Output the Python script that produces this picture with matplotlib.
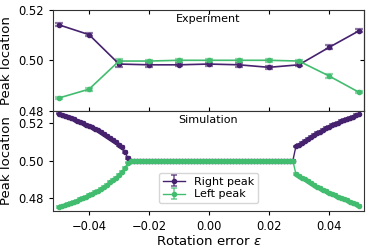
import numpy as np
import matplotlib
matplotlib.use("Agg")
import matplotlib.pyplot as plt


PURPLE = "#46216e"
GREEN = "#42bd6f"

# experiment
exp_eps = [-0.05, -0.04, -0.03, -0.02, -0.01, 0.0, 0.01, 0.02, 0.03, 0.04, 0.05]
exp_right = [0.5141, 0.5102, 0.4985, 0.4982, 0.4982, 0.4985, 0.4982, 0.4972, 0.4982, 0.5051, 0.5117]
exp_right_err = [0.0006, 0.0006, 0.0012, 0.0007, 0.0006, 0.0006, 0.0007, 0.0006, 0.0006, 0.0008, 0.0006]
exp_left = [0.4850, 0.4885, 0.4997, 0.4997, 0.5000, 0.5000, 0.5000, 0.5000, 0.4997, 0.4938, 0.4873]
exp_left_err = [0.0005, 0.0006, 0.0008, 0.0005, 0.0005, 0.0005, 0.0005, 0.0005, 0.0005, 0.0007, 0.0005]

# simulation, eps = -0.050 ... 0.050 in steps of 0.001
sim_eps = np.round(np.arange(-50, 51) * 0.001, 3)
sim_right = [
    0.5250, 0.5244, 0.5238, 0.5232, 0.5226, 0.5219, 0.5212, 0.5205, 0.5198, 0.5191,
    0.5184, 0.5176, 0.5168, 0.5160, 0.5150, 0.5140, 0.5130, 0.5120, 0.5109, 0.5097,
    0.5085, 0.5072, 0.5045, 0.5012, 0.5000,
    0.500, 0.500, 0.500, 0.500, 0.500, 0.500, 0.500, 0.500, 0.500,
    0.500, 0.500, 0.500, 0.500, 0.500, 0.500, 0.500, 0.500, 0.500,
    0.500, 0.500, 0.500, 0.500, 0.500, 0.500, 0.500, 0.500, 0.500,
    0.500, 0.500, 0.500, 0.500, 0.500, 0.500, 0.500, 0.500, 0.500,
    0.500, 0.500, 0.500, 0.500, 0.500, 0.500, 0.500, 0.500, 0.500,
    0.500, 0.500, 0.500, 0.500, 0.500, 0.500, 0.500, 0.500, 0.500,
    0.5075, 0.5085, 0.5095, 0.5105, 0.5116, 0.5127, 0.5136, 0.5145, 0.5154, 0.5163,
    0.5171, 0.5180, 0.5187, 0.5194, 0.5201, 0.5208, 0.5214, 0.5221, 0.5228, 0.5234,
    0.5240, 0.5245,
]
sim_left = [
    0.4752, 0.4757, 0.4762, 0.4768, 0.4774, 0.4780, 0.4787, 0.4794, 0.4801, 0.4808,
    0.4816, 0.4824, 0.4832, 0.4841, 0.4850, 0.4860, 0.4871, 0.4888, 0.4898, 0.4909,
    0.4922, 0.4940, 0.4962, 0.4990, 0.5000,
    0.500, 0.500, 0.500, 0.500, 0.500, 0.500, 0.500, 0.500, 0.500,
    0.500, 0.500, 0.500, 0.500, 0.500, 0.500, 0.500, 0.500, 0.500,
    0.500, 0.500, 0.500, 0.500, 0.500, 0.500, 0.500, 0.500, 0.500,
    0.500, 0.500, 0.500, 0.500, 0.500, 0.500, 0.500, 0.500, 0.500,
    0.500, 0.500, 0.500, 0.500, 0.500, 0.500, 0.500, 0.500, 0.500,
    0.500, 0.500, 0.500, 0.500, 0.500, 0.500, 0.500, 0.500, 0.500,
    0.4929, 0.4920, 0.4910, 0.4900, 0.4890, 0.4880, 0.4871, 0.4862, 0.4853, 0.4845,
    0.4837, 0.4830, 0.4823, 0.4816, 0.4809, 0.4802, 0.4796, 0.4789, 0.4782, 0.4775,
    0.4768, 0.4760,
]
sim_err = 0.0005

x_ticks = [-0.04, -0.02, 0.0, 0.02, 0.04]
x_tick_labels = ["\u22120.04", "\u22120.02", "0.00", "0.02", "0.04"]


def ecol(c, a=0.6):
    return matplotlib.colors.to_rgba(c, a)


fig = plt.figure(figsize=(3.74, 2.52), dpi=100)
ax_top = fig.add_axes([0.142, 0.5615, 0.831, 0.3985])
ax_bot = fig.add_axes([0.142, 0.163, 0.831, 0.3985], sharex=ax_top)

ax_top.errorbar(exp_eps, exp_right, yerr=exp_right_err, color=PURPLE, ecolor=ecol(PURPLE),
                marker="o", ms=3, lw=1.2, elinewidth=1.6, capsize=3, capthick=1.6)
ax_top.errorbar(exp_eps, exp_left, yerr=exp_left_err, color=GREEN, ecolor=ecol(GREEN),
                marker="o", ms=3, lw=1.2, elinewidth=1.6, capsize=3, capthick=1.6)
ax_top.set_ylim(0.48, 0.52)
ax_top.set_yticks([0.48, 0.50, 0.52])
ax_top.set_ylabel("Peak location", fontsize=9.5)
ax_top.text(0.5, 0.96, "Experiment", transform=ax_top.transAxes,
            ha="center", va="top", fontsize=8)
ax_top.tick_params(axis="x", which="both", bottom=True, top=True, direction="in",
                   labelbottom=False, length=3)
ax_top.tick_params(axis="y", labelsize=8.3, length=3)
sec = ax_top.secondary_yaxis("right")
sec.set_yticks([0.50])
sec.tick_params(direction="in", labelright=False, length=3)

ax_bot.errorbar(sim_eps, sim_right, yerr=sim_err, color=PURPLE, ecolor=ecol(PURPLE),
                marker="o", ms=3, lw=1.0, elinewidth=1.4, capsize=2.2, capthick=1.4,
                label="Right peak")
ax_bot.errorbar(sim_eps, sim_left, yerr=sim_err, color=GREEN, ecolor=ecol(GREEN),
                marker="o", ms=3, lw=1.0, elinewidth=1.4, capsize=2.2, capthick=1.4,
                label="Left peak")
ax_bot.set_ylim(0.4733, 0.5266)
ax_bot.set_yticks([0.48, 0.50, 0.52])
ax_bot.set_xlim(-0.052, 0.0517)
ax_bot.set_xticks(x_ticks)
ax_bot.set_xticklabels(x_tick_labels)
ax_bot.set_ylabel("Peak location", fontsize=9.5)
ax_bot.set_xlabel(r"Rotation error $\varepsilon$", fontsize=9.5, labelpad=1)
ax_bot.text(0.5, 0.96, "Simulation", transform=ax_bot.transAxes,
            ha="center", va="top", fontsize=8)
ax_bot.tick_params(labelsize=8.3, length=3)
ax_bot.legend(loc="lower center", fontsize=8, handlelength=2, borderpad=0.35,
              labelspacing=0.25, bbox_to_anchor=(0.5, 0.02))

for ax in (ax_top, ax_bot):
    for s in ax.spines.values():
        s.set_color("#333333")

fig.savefig("out.png", dpi=100)
